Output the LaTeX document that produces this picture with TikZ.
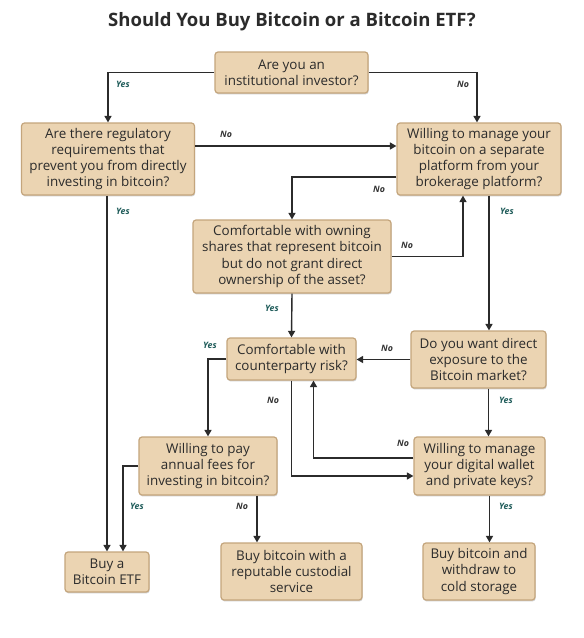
\documentclass[tikz,border=0pt]{standalone}
\usepackage{fontspec}
\setmainfont{Open Sans}
\usepackage{xcolor}
\usetikzlibrary{arrows.meta,shadows}
\definecolor{boxfill}{HTML}{EBD4B2}
\definecolor{boxline}{HTML}{C4A57C}
\definecolor{ink}{HTML}{2B2B2B}
\definecolor{yescol}{HTML}{1F5C5A}
\definecolor{nocol}{HTML}{333333}
\tikzset{
  qbox/.style={draw=boxline, fill=boxfill, rounded corners=3pt, line width=1.2pt, align=center, inner sep=2pt, text=ink,
    font=\fontsize{13.4}{16.3}\selectfont,
    drop shadow={shadow xshift=0.6pt, shadow yshift=-1.4pt, opacity=0.25, fill=black!70}},
  flow/.style={-{Triangle[length=6.5pt,width=7pt]}, line width=1.4pt, draw=ink},
  yeslbl/.style={font=\fontsize{8.8}{10}\selectfont\bfseries\itshape, text=yescol, inner sep=1pt},
  nolbl/.style={font=\fontsize{8.8}{10}\selectfont\bfseries\itshape, text=nocol, inner sep=1pt},
  title/.style={font=\fontsize{18.5}{22}\selectfont\bfseries, text=ink},
}
\newcommand{\lblyes}[2]{\node[yeslbl] at (#1,#2) {Yes};}
\newcommand{\lblno}[2]{\node[nolbl] at (#1,#2) {No};}

\begin{document}
\begin{tikzpicture}[x=1pt,y=-1pt]
  \useasboundingbox[fill=white] (0,0) rectangle (584,638);
  \node[title] (head) at (292,22) {Should You Buy Bitcoin or a Bitcoin ETF?};

  % questions
  \node[qbox, minimum width=153pt, minimum height=41pt] (inst) at (291.5,72.5) {Are you an\\institutional investor?};
  \node[qbox, minimum width=173pt, minimum height=72pt] (reg) at (108,159) {Are there regulatory\\requirements that\\prevent you from directly\\investing in bitcoin?};
  \node[qbox, minimum width=164pt, minimum height=72pt] (plat) at (479,159) {Willing to manage your\\bitcoin on a separate\\platform from your\\brokerage platform?};
  \node[qbox, minimum width=198pt, minimum height=73pt] (shares) at (292,256.5) {Comfortable with owning\\shares that represent bitcoin\\but do not grant direct\\ownership of the asset?};
  \node[qbox, minimum width=129pt, minimum height=42pt] (cpty) at (291.5,359) {Comfortable with\\counterparty risk?};
  \node[qbox, minimum width=135pt, minimum height=57pt] (direct) at (478.5,359.5) {Do you want direct\\exposure to the\\Bitcoin market?};
  \node[qbox, minimum width=138pt, minimum height=58pt] (pay) at (208,466) {Willing to pay\\annual fees for\\investing in bitcoin?};
  \node[qbox, minimum width=131pt, minimum height=58pt] (wallet) at (479.5,466) {Willing to manage\\your digital wallet\\and private keys?};

  % outcomes
  \node[qbox, minimum width=84pt, minimum height=40pt] (etf) at (107,572) {Buy a\\Bitcoin ETF};
  \node[qbox, minimum width=141pt, minimum height=57pt] (cust) at (291.5,571.5) {Buy bitcoin with a\\reputable custodial\\service};
  \node[qbox, minimum width=112pt, minimum height=57pt] (cold) at (479,571.5) {Buy bitcoin and\\withdraw to\\cold storage};

  % connectors
  \draw[flow] (inst.west) -| (reg.north);
  \draw[flow] (inst.east) -| ([xshift=-2pt]plat.north);
  \draw[flow] ([yshift=13pt]reg.east) -- ([yshift=13pt]reg.east -| plat.west);
  \draw[flow] (reg.south -| etf.north) -- (etf.north);
  \draw[flow] ([yshift=-18pt]plat.west) -| (shares.north);
  \draw[flow] ([xshift=10pt]plat.south) -- ([xshift=10pt]plat.south |- direct.north);
  \draw[flow] (shares.east) -| ([xshift=-16pt]plat.south);
  \draw[flow] (shares.south) -- (cpty.north);
  \draw[flow] (direct.west) -- (direct.west -| cpty.east);
  \draw[flow] ([xshift=10pt]direct.south) -- ([xshift=10pt]direct.south |- wallet.north);
  \draw[flow] (cpty.west) -| (pay.north);
  \draw[flow] (cpty.south) |- ([yshift=-10pt]wallet.west);
  \draw[flow] ([yshift=8pt]wallet.west) -| ([xshift=22pt]cpty.south);
  \draw[flow] ([xshift=10pt]wallet.south) -- ([xshift=10pt]wallet.south |- cold.north);
  \draw[flow] (pay.west) -| ([xshift=16pt]etf.north);
  \draw[flow] ([xshift=49pt]pay.south) -- ([xshift=49pt]pay.south |- cust.north);

  % labels
  \lblyes{123}{84}
  \lblno{463}{84}
  \lblno{226}{134}
  \lblyes{123}{211}
  \lblno{379}{189}
  \lblyes{507}{211}
  \lblno{407}{245}
  \lblyes{272}{308}
  \lblyes{210}{345}
  \lblno{387}{348}
  \lblno{273}{400}
  \lblyes{506}{400}
  \lblno{403}{443}
  \lblyes{137}{506}
  \lblno{242}{506}
  \lblyes{506}{506}
\end{tikzpicture}
\end{document}
